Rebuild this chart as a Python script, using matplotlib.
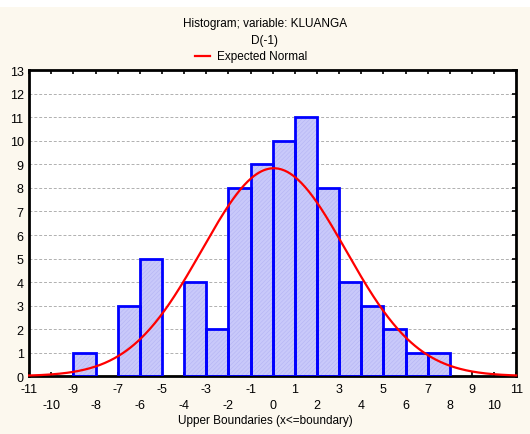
import numpy as np
import matplotlib
matplotlib.use("Agg")
import matplotlib.pyplot as plt
from matplotlib.patches import Rectangle
from matplotlib.lines import Line2D

plt.rcParams["font.family"] = ["Liberation Sans", "DejaVu Sans"]
plt.rcParams["hatch.linewidth"] = 0.4

# Histogram bins (lower edge, upper edge) and counts
bin_lower = [-9, -7, -6, -4, -3, -2, -1, 0, 1, 2, 3, 4, 5, 6, 7]
counts = [1, 3, 5, 4, 2, 8, 9, 10, 11, 8, 4, 3, 2, 1, 1]
bin_width = 1.0

# Expected normal parameters
norm_mean = 0.05
norm_sd = 3.25

x_ticks = list(range(-11, 12))
y_ticks = list(range(0, 14))

BG = "#fcf8ee"

fig = plt.figure(figsize=(5.30, 4.35), dpi=100, facecolor=BG)
fig.patches.append(Rectangle((0, 0.982), 1, 0.018, transform=fig.transFigure,
                             facecolor="white", edgecolor="none", zorder=0))
ax = fig.add_axes([0.055, 0.133, 0.919, 0.703])
ax.set_facecolor("white")

# bars: hatched fill first, blue outline on top
ax.bar(bin_lower, counts, width=bin_width, align="edge",
       facecolor="#c9c9fa", edgecolor="#b4b4f4", hatch="////////",
       linewidth=0, zorder=2)
ax.bar(bin_lower, counts, width=bin_width, align="edge",
       facecolor="none", edgecolor="#0000ff", linewidth=2.0, zorder=3)

# expected normal curve scaled to counts
n_total = sum(counts)
xs = np.linspace(-11, 11, 400)
ys = n_total * bin_width / (norm_sd * np.sqrt(2 * np.pi)) * np.exp(-0.5 * ((xs - norm_mean) / norm_sd) ** 2)
ax.plot(xs, ys, color="#ff0000", linewidth=1.6, zorder=4, clip_on=False)

ax.set_xlim(-11, 11)
ax.set_ylim(0, 13)
ax.set_yticks(y_ticks)
ax.set_yticklabels([str(v) for v in y_ticks], fontsize=9)
ax.set_xticks(x_ticks)
ax.set_xticklabels([])
ax.yaxis.grid(True, linestyle=(0, (3, 2)), color="#b0b0b0", linewidth=0.7, zorder=0)
ax.set_axisbelow(True)

ax.tick_params(axis="x", direction="in", length=3, width=1.2, top=True, bottom=True)
ax.tick_params(axis="y", direction="in", length=3, width=1.2, left=False, right=True, pad=4)
for side in ["left", "bottom", "top", "right"]:
    ax.spines[side].set_linewidth(2.0)
    ax.spines[side].set_color("black")

# staggered boundary labels: odd on upper row, even on lower row
for v in x_ticks:
    dy = -9 if v % 2 else -21
    ax.annotate(str(v), xy=(v, 0), xycoords=("data", "axes fraction"),
                xytext=(0, dy), textcoords="offset points",
                ha="center", va="center", fontsize=9, annotation_clip=False)

fig.text(0.5, 0.032, "Upper Boundaries (x<=boundary)", ha="center", va="center", fontsize=8.5)
fig.text(0.5, 0.944, "Histogram; variable: KLUANGA", ha="center", va="center", fontsize=8.5)
fig.text(0.5, 0.905, "D(-1)", ha="center", va="center", fontsize=8.5)

# legend entry
fig.add_artist(Line2D([0.368, 0.397], [0.869, 0.869], transform=fig.transFigure,
                      color="#ff0000", linewidth=1.6))
fig.text(0.409, 0.869, "Expected Normal", ha="left", va="center", fontsize=8.5)

fig.savefig("out.png", dpi=100, facecolor=BG)
